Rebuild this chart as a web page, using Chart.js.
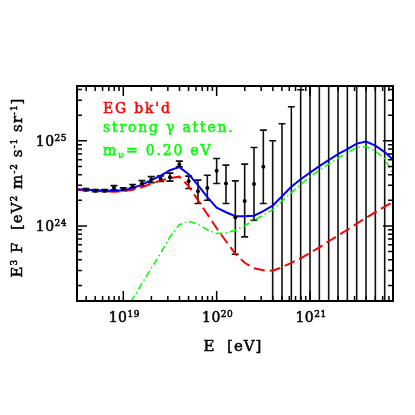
<!DOCTYPE html>
<html>
<head>
<meta charset="utf-8">
<script src="https://cdn.jsdelivr.net/npm/chart.js@4.4.1/dist/chart.umd.min.js"></script>
<style>
    html, body { margin: 0; padding: 0; background: #fff; }
    #wrap { width: 415px; height: 415px; }
</style>
</head>
<body>
<div id="wrap"><canvas id="chartEspectro" width="415" height="415"></canvas></div>
<script>
// todo en log10: energia en eV, flujo E^3 F en eV^2 m^-2 s^-1 sr^-1
const logE = [18.5, 18.6, 18.7, 18.8, 18.9, 19.0, 19.1, 19.2, 19.3, 19.4, 19.5, 19.6, 19.7, 19.8, 19.9,
    20.0, 20.1, 20.2, 20.3, 20.4, 20.5, 20.6, 20.7, 20.8, 20.9, 21.0, 21.1, 21.2, 21.3, 21.4, 21.5,
    21.6, 21.7, 21.8, 21.9];

const logTotal = [24.432, 24.426, 24.42, 24.414, 24.414, 24.42, 24.444, 24.485, 24.538, 24.591, 24.655,
    24.691, 24.608, 24.479, 24.338, 24.214, 24.161, 24.114, 24.114, 24.12, 24.173, 24.238, 24.349,
    24.461, 24.549, 24.626, 24.702, 24.773, 24.844, 24.902, 24.967, 24.991, 24.944, 24.867, 24.767];

const logEG = [24.426, 24.42, 24.414, 24.408, 24.402, 24.408, 24.426, 24.455, 24.496, 24.532, 24.561,
    24.579, 24.467, 24.302, 24.138, 23.973, 23.82, 23.673, 23.567, 23.502, 23.479, 23.473, 23.514,
    23.567, 23.62, 23.685, 23.749, 23.82, 23.887, 23.955, 24.026, 24.096, 24.161, 24.226, 24.291];

const logGamma = [null, null, null, null, null, 22.965, 23.145, 23.324, 23.502, 23.682, 23.873,
    24.014, 24.055, 24.02, 23.955, 23.911, 23.92, 23.949, 24.002, 24.067, 24.126, 24.191, 24.291,
    24.391, 24.485, 24.579, 24.655, 24.726, 24.796, 24.861, 24.92, 24.932, 24.879, 24.791, 24.585];

const logEDatos = [18.6, 18.7, 18.8, 18.9, 19.0, 19.1, 19.2, 19.3, 19.4, 19.5, 19.6, 19.7, 19.8, 19.9,
    20.0, 20.1, 20.2, 20.3, 20.4, 20.5];
const logFlujo = [24.426, 24.414, 24.414, 24.449, 24.432, 24.467, 24.502, 24.544, 24.555, 24.573,
    24.721, 24.526, 24.408, 24.447, 24.647, 24.499, 24.099, 24.294, 24.494, 24.694];
const logErrSup = [24.438, 24.426, 24.426, 24.473, 24.447, 24.487, 24.532, 24.579, 24.588, 24.62,
    24.761, 24.585, 24.538, 24.596, 24.793, 24.714, 24.529, 24.726, 24.922, 25.126];
const logErrInf = [24.414, 24.402, 24.402, 24.425, 24.417, 24.447, 24.472, 24.509, 24.522, 24.526,
    24.694, 24.44, 24.264, 24.302, 24.499, 24.264, 23.667, 23.871, 24.067, 24.264];

// limites superiores (la barra baja hasta fuera del grafico)
const logELimites = [20.6, 20.7, 20.8, 20.9, 21.0, 21.1, 21.2, 21.3, 21.4, 21.5, 21.6, 21.7, 21.8];
const logLimites = [25.0, 25.2, 25.4, 25.6, 26, 26, 26, 26, 26, 26, 26, 26, 26];

const rangoLogX = [18.504, 21.889];
const rangoLogY = [23.118, 25.644];
const decadasX = [19, 20, 21];
const decadasY = [24, 25];

const lineasTexto = [
    { color: '#ff0000', partes: [["EG bk'd", 'n']] },
    { color: '#00ff00', partes: [['strong \u03b3 atten.', 'n']] },
    { color: '#00ff00', partes: [['m', 'n'], ['\u03bd', 'sub'], ['= 0.20 eV', 'n']] }
];

const FUENTE = '"DejaVu Serif", serif';

const puntos = (xs, ys) => xs.map((x, i) => ({
    x: Math.pow(10, x),
    y: ys[i] === null ? null : Math.pow(10, ys[i])
}));

function fuenteDe(tipo, tam) {
    if (tipo === 'sup') return Math.round(tam * 0.62) + 'px ' + FUENTE;
    if (tipo === 'sub') return Math.round(tam * 0.72) + 'px ' + FUENTE;
    return tam + 'px ' + FUENTE;
}

function anchoTexto(ctx, partes, tam) {
    let w = 0;
    partes.forEach(p => {
        ctx.font = fuenteDe(p[1], tam);
        w += ctx.measureText(p[0]).width;
    });
    return w;
}

// dibuja texto con superindices / subindices, alinear: 'left' | 'center' | 'right'
function textoRico(ctx, partes, x, y, tam, alinear) {
    const w = anchoTexto(ctx, partes, tam);
    let cx = x;
    if (alinear === 'center') cx = x - w / 2;
    if (alinear === 'right') cx = x - w;
    ctx.textAlign = 'left';
    ctx.textBaseline = 'alphabetic';
    ctx.strokeStyle = ctx.fillStyle;
    ctx.lineWidth = 0.5;
    partes.forEach(p => {
        ctx.font = fuenteDe(p[1], tam);
        let dy = 0;
        if (p[1] === 'sup') dy = -tam * 0.36;
        if (p[1] === 'sub') dy = tam * 0.22;
        ctx.fillText(p[0], cx, y + dy);
        ctx.strokeText(p[0], cx, y + dy);
        cx += ctx.measureText(p[0]).width;
    });
}

const plugMarco = {
    id: 'marco',
    beforeDatasetsDraw(chart) {
        const { ctx, chartArea: a, scales: { x, y } } = chart;
        ctx.save();
        ctx.beginPath();
        ctx.rect(a.left, a.top, a.right - a.left, a.bottom - a.top);
        ctx.clip();
        ctx.strokeStyle = '#111';
        ctx.lineWidth = 1.6;
        const cap = 3.5;
        logEDatos.forEach((e, i) => {
            const px = x.getPixelForValue(Math.pow(10, e));
            const ya = y.getPixelForValue(Math.pow(10, logErrSup[i]));
            const yb = y.getPixelForValue(Math.pow(10, logErrInf[i]));
            ctx.beginPath();
            ctx.moveTo(px, ya); ctx.lineTo(px, yb);
            ctx.moveTo(px - cap, ya); ctx.lineTo(px + cap, ya);
            ctx.moveTo(px - cap, yb); ctx.lineTo(px + cap, yb);
            ctx.stroke();
        });
        logELimites.forEach((e, i) => {
            const px = x.getPixelForValue(Math.pow(10, e));
            const ya = y.getPixelForValue(Math.pow(10, logLimites[i]));
            ctx.beginPath();
            ctx.moveTo(px, ya); ctx.lineTo(px, a.bottom + 2);
            ctx.moveTo(px - cap, ya); ctx.lineTo(px + cap, ya);
            ctx.stroke();
        });
        ctx.restore();
    },
    afterDraw(chart) {
        const { ctx, chartArea: a, scales: { x, y } } = chart;
        ctx.save();
        ctx.strokeStyle = '#000';
        ctx.fillStyle = '#000';

        // ticks hacia adentro en los cuatro lados
        ctx.lineWidth = 1.5;
        ctx.beginPath();
        for (let d = Math.floor(rangoLogX[0]); d <= Math.ceil(rangoLogX[1]); d++) {
            for (let k = 1; k <= 9; k++) {
                const v = k * Math.pow(10, d);
                const px = x.getPixelForValue(v);
                if (px < a.left + 1 || px > a.right - 1) continue;
                const len = k === 1 ? 10 : 5;
                ctx.moveTo(px, a.bottom); ctx.lineTo(px, a.bottom - len);
                ctx.moveTo(px, a.top); ctx.lineTo(px, a.top + len);
            }
        }
        for (let d = Math.floor(rangoLogY[0]); d <= Math.ceil(rangoLogY[1]); d++) {
            for (let k = 1; k <= 9; k++) {
                const v = k * Math.pow(10, d);
                const py = y.getPixelForValue(v);
                if (py < a.top + 1 || py > a.bottom - 1) continue;
                const len = k === 1 ? 10 : 5;
                ctx.moveTo(a.left, py); ctx.lineTo(a.left + len, py);
                ctx.moveTo(a.right, py); ctx.lineTo(a.right - len, py);
            }
        }
        ctx.stroke();

        ctx.lineWidth = 2;
        ctx.strokeRect(a.left, a.top, a.right - a.left, a.bottom - a.top);

        // etiquetas de los ticks
        ctx.letterSpacing = '0.5px';
        decadasX.forEach(d => {
            const px = x.getPixelForValue(Math.pow(10, d));
            textoRico(ctx, [['10', 'n'], [String(d), 'sup']], px + 1, a.bottom + 21, 14, 'center');
        });
        decadasY.forEach(d => {
            const py = y.getPixelForValue(Math.pow(10, d));
            textoRico(ctx, [['10', 'n'], [String(d), 'sup']], a.left - 10, py + 5, 14, 'right');
        });

        // titulos de ejes
        ctx.letterSpacing = '1px';
        textoRico(ctx, [['E  [eV]', 'n']], (a.left + a.right) / 2 - 2, a.bottom + 50, 15, 'center');
        ctx.save();
        ctx.translate(a.left - 55, (a.top + a.bottom) / 2 - 6);
        ctx.rotate(-Math.PI / 2);
        textoRico(ctx, [
            ['E', 'n'], ['3', 'sup'], [' F  [eV', 'n'], ['2', 'sup'], [' m', 'n'], ['-2', 'sup'],
            [' s', 'n'], ['-1', 'sup'], [' sr', 'n'], ['-1', 'sup'], [']', 'n']
        ], 0, 0, 15, 'center');
        ctx.restore();

        // texto de leyenda
        ctx.letterSpacing = '1.8px';
        const baseLineas = [26.5, 46, 69];
        lineasTexto.forEach((l, i) => {
            ctx.fillStyle = l.color;
            textoRico(ctx, l.partes, a.left + 26, a.top + baseLineas[i], 14, 'left');
        });
        ctx.restore();
    }
};

new Chart(document.getElementById('chartEspectro'), {
    type: 'scatter',
    data: {
        datasets: [
            {
                label: 'datos',
                data: puntos(logEDatos, logFlujo),
                pointRadius: 2,
                pointBackgroundColor: '#000',
                pointBorderWidth: 0,
                showLine: false
            },
            {
                label: 'total',
                data: puntos(logE, logTotal),
                showLine: true,
                borderColor: '#0000ff',
                borderWidth: 2,
                pointRadius: 0,
                fill: false
            },
            {
                label: "EG bk'd",
                data: puntos(logE, logEG),
                showLine: true,
                borderColor: '#ff0000',
                borderWidth: 2,
                borderDash: [11, 5],
                pointRadius: 0,
                fill: false
            },
            {
                label: 'strong gamma atten.',
                data: puntos(logE, logGamma),
                showLine: true,
                borderColor: '#00ff00',
                borderWidth: 1.5,
                borderDash: [7, 3, 1.5, 3],
                pointRadius: 0,
                spanGaps: false,
                fill: false
            }
        ]
    },
    options: {
        responsive: false,
        animation: false,
        devicePixelRatio: 1,
        layout: { padding: { left: 77, right: 22, top: 86, bottom: 114 } },
        scales: {
            x: {
                type: 'logarithmic',
                display: false,
                min: Math.pow(10, rangoLogX[0]),
                max: Math.pow(10, rangoLogX[1])
            },
            y: {
                type: 'logarithmic',
                display: false,
                min: Math.pow(10, rangoLogY[0]),
                max: Math.pow(10, rangoLogY[1])
            }
        },
        plugins: {
            legend: { display: false },
            tooltip: { enabled: false }
        }
    },
    plugins: [plugMarco]
});
</script>
</body>
</html>
